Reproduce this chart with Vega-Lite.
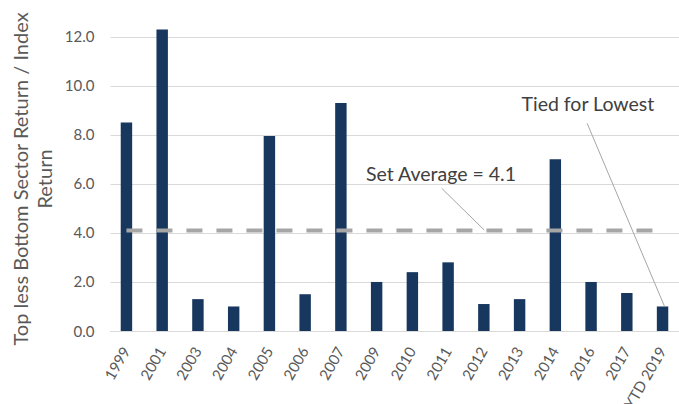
{
  "$schema": "https://vega.github.io/schema/vega-lite/v6.json",
  "autosize": "none",
  "width": 569,
  "height": 331,
  "padding": {"left": 110, "top": 0, "right": 0, "bottom": 73},
  "background": "white",
  "config": {"font": "Lato", "view": {"stroke": null}},
  "encoding": {
    "y": {
      "field": "value",
      "type": "quantitative",
      "scale": {"domain": [0, 13.5], "nice": false},
      "axis": {
        "values": [0, 2, 4, 6, 8, 10, 12],
        "format": ".1f",
        "domain": false,
        "ticks": false,
        "grid": true,
        "gridColor": "#D9D9D9",
        "gridWidth": 1,
        "labelFontSize": 15,
        "labelColor": "#595959",
        "labelPadding": 16,
        "title": ["Top less Bottom Sector Return / Index", "Return"],
        "titleFontSize": 20,
        "titleFontWeight": "normal",
        "titleColor": "#595959",
        "titleLineHeight": 24,
        "titleX": -89,
        "titleY": 178.5,
        "titleAngle": -90,
        "titleAlign": "center",
        "titleBaseline": "middle"
      }
    }
  },
  "layer": [
    {
      "data": {
        "values": [
          {"year": "1999", "value": 8.5},
          {"year": "2001", "value": 12.3},
          {"year": "2003", "value": 1.3},
          {"year": "2004", "value": 1.0},
          {"year": "2005", "value": 7.95},
          {"year": "2006", "value": 1.5},
          {"year": "2007", "value": 9.3},
          {"year": "2009", "value": 2.0},
          {"year": "2010", "value": 2.4},
          {"year": "2011", "value": 2.8},
          {"year": "2012", "value": 1.1},
          {"year": "2013", "value": 1.3},
          {"year": "2014", "value": 7.0},
          {"year": "2016", "value": 2.0},
          {"year": "2017", "value": 1.55},
          {"year": "YTD 2019", "value": 1.0}
        ]
      },
      "mark": {"type": "bar", "color": "#17375E"},
      "encoding": {
        "x": {
          "field": "year",
          "type": "nominal",
          "sort": null,
          "scale": {"paddingInner": 0.68, "paddingOuter": 0.3},
          "axis": {
            "title": null,
            "labelAngle": -60,
            "labelFontSize": 15,
            "labelColor": "#595959",
            "labelPadding": 17,
            "domainColor": "#D9D9D9",
            "domainWidth": 1,
            "ticks": false,
            "grid": false
          }
        }
      }
    },
    {
      "data": {"values": [{"from": 0, "to": 15, "value": 4.1}]},
      "mark": {"type": "rule", "color": "#A6A6A6", "strokeWidth": 4, "strokeDash": [16, 14]},
      "encoding": {
        "x": {"field": "from", "type": "quantitative", "scale": {"domain": [-0.46, 15.46], "nice": false, "zero": false}, "axis": null},
        "x2": {"field": "to"}
      }
    },
    {
      "data": {
        "values": [
          {"x0": 8.82, "value": 5.82, "x1": 10.01, "value2": 4.12},
          {"x0": 12.89, "value": 8.47, "x1": 15.05, "value2": 1.02}
        ]
      },
      "mark": {"type": "rule", "color": "#A6A6A6", "strokeWidth": 1},
      "encoding": {
        "x": {"field": "x0", "type": "quantitative", "scale": {"domain": [-0.46, 15.46], "nice": false, "zero": false}, "axis": null},
        "x2": {"field": "x1"},
        "y2": {"field": "value2"}
      }
    },
    {
      "data": {
        "values": [
          {"label": "Set Average = 4.1", "px": 8.8, "value": 6.36},
          {"label": "Tied for Lowest", "px": 12.91, "value": 9.22}
        ]
      },
      "mark": {"type": "text", "fontSize": 19.5, "color": "#404040", "align": "center", "baseline": "middle"},
      "encoding": {
        "x": {"field": "px", "type": "quantitative", "scale": {"domain": [-0.46, 15.46], "nice": false, "zero": false}, "axis": null},
        "text": {"field": "label"}
      }
    }
  ],
  "resolve": {"scale": {"x": "independent"}}
}
